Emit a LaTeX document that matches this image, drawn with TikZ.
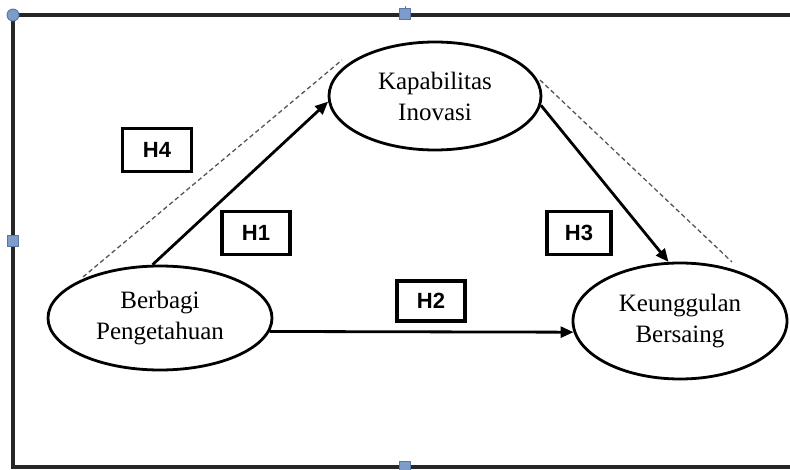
\documentclass[tikz,border=0pt]{standalone}
\usepackage{fontspec}
\setmainfont{Liberation Serif}
\newfontfamily\hfont{Liberation Sans}
\usetikzlibrary{shapes.geometric,arrows.meta}
\definecolor{handlefill}{HTML}{7D9CC9}
\definecolor{handledraw}{HTML}{5877A8}
\definecolor{dashgray}{HTML}{555555}
\tikzset{
  construct/.style={draw=black,line width=2.8pt,ellipse,inner sep=0pt,align=center,
    font=\fontsize{25}{31}\selectfont},
  hypbox/.style={draw=black,line width=3.3pt,inner sep=0pt,minimum height=43pt,
    font=\hfont\bfseries\fontsize{22}{24}\selectfont},
  path/.style={line width=2.8pt,-{Triangle[length=13pt,width=11pt]}},
  dashline/.style={draw=dashgray,line width=1.3pt,dash pattern=on 4.5pt off 3pt},
  frame/.style={line width=3.6pt,draw=black!85},
  handlesq/.style={draw=handledraw,fill=handlefill,line width=0.9pt,minimum size=11pt,inner sep=0pt},
  handlecirc/.style={circle,draw=handledraw,fill=handlefill,line width=0.9pt,minimum size=12pt,inner sep=0pt}
}
\begin{document}
\begin{tikzpicture}[x=1pt,y=-1pt]
\useasboundingbox (0,0) rectangle (790,470);
% frame
\draw[frame] (800,15) -- (13,15) -- (13,467) -- (800,467);
\coordinate (tick1) at (405,14);
\coordinate (tick2) at (405,6);
\draw[handledraw,line width=0.9pt] (tick1) -- (tick2);
\node[handlecirc] (hc) at (13,15) {};
\node[handlesq] (ht) at (405,14) {};
\node[handlesq] (hl) at (13,241) {};
\node[handlesq] (hb) at (405,467) {};
% constructs
\node[construct,minimum width=212pt,minimum height=108pt] (KI) at (435,96) {Kapabilitas\\Inovasi};
\node[construct,minimum width=224pt,minimum height=104pt] (BP) at (160,318) {Berbagi\\Pengetahuan};
\node[construct,minimum width=214pt,minimum height=116pt] (KB) at (680,321) {Keunggulan\\Bersaing};
% hypothesis boxes
\node[hypbox,minimum width=69pt] (H4) at (157,150) {H4};
\node[hypbox,minimum width=68pt] (H1) at (256,233) {H1};
\node[hypbox,minimum width=64pt] (H3) at (579,233) {H3};
\node[hypbox,minimum width=68pt,minimum height=40pt] (H2) at (431,301) {H2};
% paths
\draw[path] (BP.98) -- (KI.183);
\draw[path] (KI.355) -- (KB.101);
\draw[path] (BP.353) -- (KB.186);
% dashed lines
\coordinate (d1a) at (83,277);
\coordinate (d1b) at (342,60);
\coordinate (d2a) at (540,80);
\coordinate (d2b) at (732,262);
\draw[dashline] (d1a) -- (d1b);
\draw[dashline] (d2a) -- (d2b);
\end{tikzpicture}
\end{document}
